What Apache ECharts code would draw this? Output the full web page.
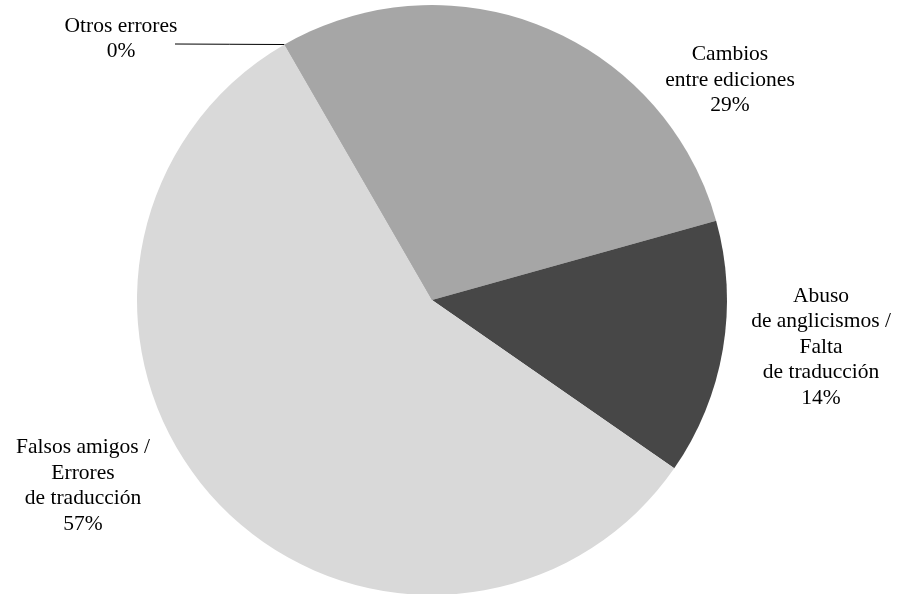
<!DOCTYPE html>
<html>
<head>
<meta charset="utf-8">
<script src="https://cdn.jsdelivr.net/npm/echarts@6/dist/echarts.min.js"></script>
<style>html,body{margin:0;padding:0;background:#fff;}#c{width:899px;height:594px;}</style>
</head>
<body>
<div id="c"></div>
<script>
const categories = ['Otros errores', 'Cambios\nentre ediciones', 'Abuso\nde anglicismos /\nFalta\nde traducción', 'Falsos amigos /\nErrores\nde traducción'];
const values = [0, 29, 14, 57];
const percents = ['0%', '29%', '14%', '57%'];
const colors = ['#bfbfbf', '#a6a6a6', '#474747', '#d9d9d9'];

const labelPos = [[121, 39], [730, 80], [821, 347], [83, 486]];

const chart = echarts.init(document.getElementById('c'));
chart.setOption({
  backgroundColor: '#ffffff',
  animation: false,
  series: [{
    type: 'pie',
    center: [432, 300],
    radius: 295,
    startAngle: 120,
    clockwise: true,
    avoidLabelOverlap: false,
    itemStyle: { borderWidth: 0 },
    label: {
      show: true,
      position: 'outside',
      fontFamily: '"Liberation Serif", "DejaVu Serif", serif',
      fontSize: 21.5,
      lineHeight: 25.5,
      color: '#000',
      align: 'center',
      formatter: function (p) { return p.name + '\n' + percents[p.dataIndex]; }
    },
    labelLine: { show: false },
    labelLayout: function (params) {
      const i = params.dataIndex;
      const res = { x: labelPos[i][0], y: labelPos[i][1], align: 'center', verticalAlign: 'middle' };
      if (i === 0 && params.labelLinePoints) {
        const p = params.labelLinePoints[0];
        const end = [175, 44];
        res.labelLinePoints = [p, [(p[0] + end[0]) / 2, (p[1] + end[1]) / 2], end];
      }
      return res;
    },
    emphasis: { disabled: true },
    data: categories.map(function (c, i) {
      const d = { name: c, value: values[i], itemStyle: { color: colors[i] } };
      if (i === 0) {
        d.itemStyle.borderColor = '#7a7a7a';
        d.itemStyle.borderWidth = 1;
        d.labelLine = { show: true, lineStyle: { color: '#000', width: 1 } };
      }
      return d;
    })
  }]
});
</script>
</body>
</html>
